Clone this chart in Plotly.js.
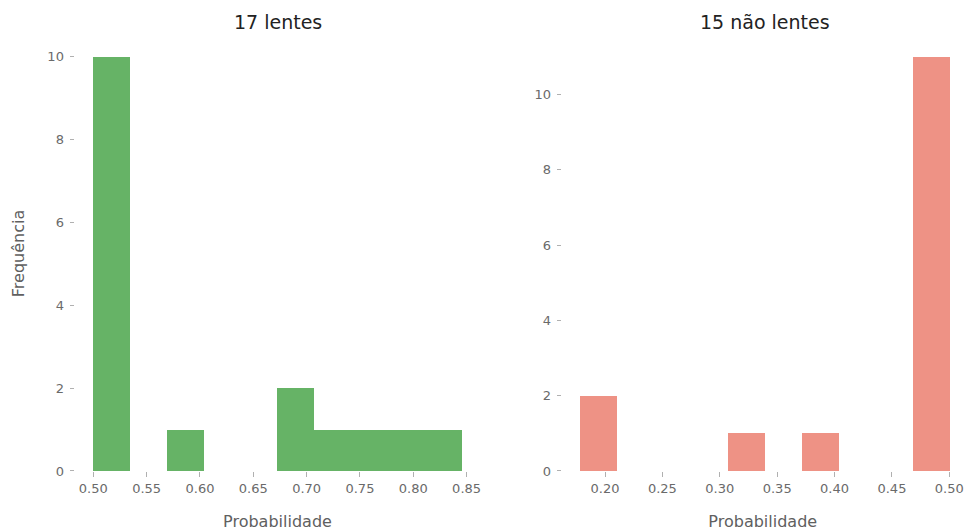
<!DOCTYPE html>
<html>
<head>
<meta charset="utf-8">
<script src="https://cdn.plot.ly/plotly-3.0.1.min.js"></script>
<style>
  html, body { margin: 0; padding: 0; background: #ffffff; }
  #chart { width: 964px; height: 532px; }
</style>
</head>
<body>
<div id="chart"></div>
<script>
// Histogram bins (edges) and counts for each group
const lensEdges = [0.4997, 0.5343, 0.5689, 0.6035, 0.6381, 0.6727, 0.7073, 0.7419, 0.7765, 0.8111, 0.8457];
const lensCounts = [10, 0, 1, 0, 0, 2, 1, 1, 1, 1];

const noLensEdges = [0.1782, 0.2104, 0.2426, 0.2748, 0.3070, 0.3392, 0.3714, 0.4036, 0.4358, 0.4680, 0.5002];
const noLensCounts = [2, 0, 0, 0, 1, 0, 1, 0, 0, 11];

const panelTitles = ['17 lentes', '15 não lentes'];
const xLabel = 'Probabilidade';
const yLabel = 'Frequência';

const lensTicks = [0.50, 0.55, 0.60, 0.65, 0.70, 0.75, 0.80, 0.85];
const noLensTicks = [0.20, 0.25, 0.30, 0.35, 0.40, 0.45, 0.50];
const countTicks = [0, 2, 4, 6, 8, 10];

function binTrace(edges, counts, color, xa, ya) {
  const left = edges.slice(0, -1);
  const widths = left.map((e, i) => edges[i + 1] - e);
  return {
    type: 'bar',
    x: left,
    y: counts,
    width: widths,
    offset: 0,
    xaxis: xa,
    yaxis: ya,
    marker: { color: color, opacity: 0.6, line: { width: 0 } },
    hoverinfo: 'x+y',
    showlegend: false
  };
}

const data = [
  binTrace(lensEdges, lensCounts, 'rgb(0,128,0)', 'x', 'y'),
  binTrace(noLensEdges, noLensCounts, 'rgb(226,74,51)', 'x2', 'y2')
];

const tickFont = { family: 'DejaVu Sans', size: 13, color: '#6a6a6a' };
const labelFont = { family: 'DejaVu Sans', size: 16, color: '#606060' };

function xAxis(domain, range, ticks, anchor) {
  return {
    domain: domain, range: range, anchor: anchor,
    tickvals: ticks, tickformat: '.2f',
    showgrid: false, zeroline: false, showline: false,
    ticks: 'outside', ticklen: 5, tickwidth: 1, tickcolor: '#b0b0b0',
    tickfont: tickFont,
    title: { text: xLabel, font: labelFont, standoff: 21 }
  };
}

function yAxis(domain, range, anchor, title) {
  return {
    domain: domain, range: range, anchor: anchor,
    tickvals: countTicks,
    showgrid: false, zeroline: false, showline: false,
    ticks: 'outside', ticklen: 4, tickwidth: 1, tickcolor: '#b0b0b0',
    tickfont: tickFont,
    ticklabelstandoff: 3,
    title: title ? { text: title, font: labelFont, standoff: 18 } : { text: '' }
  };
}

const yDomain = [0.1147, 0.9323];

const layout = {
  width: 964,
  height: 532,
  margin: { l: 0, r: 0, t: 0, b: 0 },
  paper_bgcolor: '#ffffff',
  plot_bgcolor: '#ffffff',
  font: { family: 'DejaVu Sans', color: '#555555' },
  bargap: 0,
  xaxis: xAxis([0.0773, 0.4984], [0.4824, 0.863], lensTicks, 'y'),
  yaxis: yAxis(yDomain, [0, 10.5], 'x', yLabel),
  xaxis2: xAxis([0.5825, 1.0], [0.1621, 0.5128], noLensTicks, 'y2'),
  yaxis2: yAxis(yDomain, [0, 11.55], 'x2', null),
  annotations: [
    { text: panelTitles[0], xref: 'paper', yref: 'paper', x: 0.2879, y: 0.9586,
      xanchor: 'center', yanchor: 'middle', showarrow: false,
      font: { family: 'DejaVu Sans', size: 19, color: '#222222' } },
    { text: panelTitles[1], xref: 'paper', yref: 'paper', x: 0.7933, y: 0.9586,
      xanchor: 'center', yanchor: 'middle', showarrow: false,
      font: { family: 'DejaVu Sans', size: 19, color: '#222222' } }
  ]
};

Plotly.newPlot('chart', data, layout, { displayModeBar: false, staticPlot: true });
</script>
</body>
</html>
